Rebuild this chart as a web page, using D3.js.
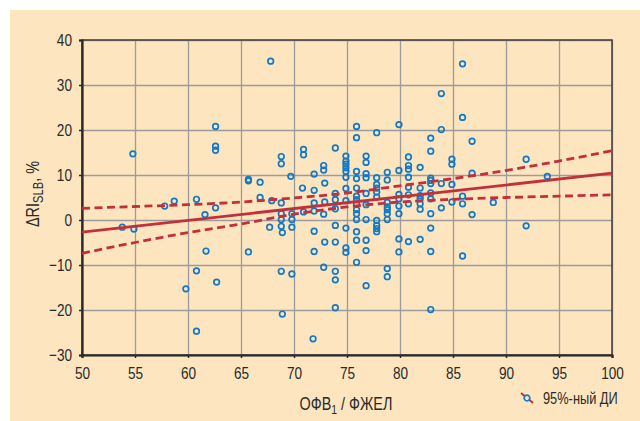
<!DOCTYPE html>
<html>
<head>
<meta charset="utf-8">
<script src="https://cdn.jsdelivr.net/npm/d3@7"></script>
<style>
  body { margin: 0; background: #fff; }
  svg text { font-family: "Liberation Sans", Arial, sans-serif; fill: #2a2a2a; }
</style>
</head>
<body>
<svg id="chart" width="640" height="421"></svg>
<script>
// ОФВ1/ФЖЕЛ (x) and ΔRI SLB, % (y) for each patient
var ofv = [
  54.8, 53.8, 54.9, 57.8, 58.7, 60.8, 61.6, 62.6, 62.6, 62.6, 62.6, 61.7, 60.8, 62.7, 59.8, 60.8, 65.7, 65.7, 65.7,
  67.8, 66.8, 66.8, 67.9, 68.8, 68.8, 68.8, 68.8, 68.8, 68.8, 68.9, 67.7, 68.8, 68.9,
  69.7, 69.8, 69.8, 69.8, 69.8, 70.9, 70.9, 70.8, 70.9,
  71.9, 71.9, 71.9, 71.9, 71.9, 71.9, 71.8,
  72.8, 72.8, 72.9, 72.9, 72.8, 72.9, 72.8,
  73.9, 73.9, 73.9, 73.9, 73.9, 73.9, 73.9, 73.9, 73.9,
  74.9, 74.9, 74.9, 74.9, 74.9, 74.9, 74.9, 74.9, 74.9, 74.9, 74.9,
  75.9, 75.9, 75.9, 75.9, 75.9, 75.9, 75.9, 75.9, 75.9, 75.9, 75.9, 75.9, 75.9, 75.9,
  76.8, 76.8, 76.8, 76.8, 76.8, 76.8, 76.8, 76.8, 76.8, 76.8,
  77.8, 77.8, 77.8, 77.8, 77.8, 77.8, 77.8, 77.8, 77.8, 77.8,
  78.8, 78.8, 78.8, 78.8, 78.8, 78.8, 78.8, 78.8, 78.8,
  79.9, 79.9, 79.9, 79.9, 79.9, 79.9, 79.9, 79.9,
  80.8, 80.8, 80.8, 80.8, 80.8, 80.8, 80.8, 80.8,
  81.9, 81.9, 81.9, 81.9, 81.9, 81.9, 81.9,
  82.9, 82.9, 82.9, 82.9, 82.9, 82.9, 82.9, 82.9, 82.9, 82.9, 82.9,
  83.9, 83.9, 83.9, 83.9,
  84.9, 84.9, 84.9, 84.9,
  85.9, 85.9, 85.9, 85.9, 85.9,
  86.8, 86.8, 86.8,
  88.8, 91.9, 91.9, 93.9
];
var dri = [
  14.7, -1.6, -2.0, 3.1, 4.2, 4.6, 1.2, 2.7, 20.8, 16.4, 15.5, -6.9, -11.3, -13.8, -15.3, -24.7, 9.0, 8.7, -7.1,
  35.3, 8.4, 5.0, 4.3, 14.1, 12.5, 3.8, 1.4, 0.1, -1.4, -2.8, -1.6, -11.4, -20.9,
  9.7, 1.4, 0.1, -1.6, -12.0, 15.7, 14.5, 7.1, 1.8,
  10.2, 6.6, 3.8, 2.0, -2.5, -7.0, -26.4,
  12.1, 11.1, 8.2, 4.0, 1.3, -4.9, -10.5,
  16.0, 5.9, 4.5, 2.5, -1.2, -4.9, -11.4, -13.3, -19.5,
  14.2, 13.1, 12.4, 11.6, 10.8, 9.5, 7.0, 4.3, -1.8, -6.2, -7.2,
  20.8, 18.3, 10.8, 9.2, 7.1, 5.3, 4.5, 3.5, 2.3, 1.4, 0.1, -2.6, -4.5, -9.4,
  14.2, 12.8, 10.3, 9.4, 5.9, 3.4, 0.1, -4.5, -6.8, -14.6,
  19.4, 9.4, 7.9, 7.1, 6.2, 5.1, -0.1, -1.2, -1.9, -2.6,
  10.6, 8.9, 3.9, 2.9, 2.3, 1.4, 0.1, -10.8, -12.6,
  21.2, 11.0, 5.7, 4.7, 3.1, 1.4, -4.2, -7.1,
  14.0, 12.1, 11.3, 9.5, 7.3, 5.6, 3.6, -4.8,
  11.7, 7.1, 5.4, 4.7, 3.6, 2.4, -4.3,
  18.2, 15.3, 9.3, 8.8, 8.1, 6.0, 4.7, 1.4, -1.8, -7.0, -19.9,
  28.1, 20.1, 8.1, 2.7,
  13.5, 12.4, 7.9, 4.0,
  34.7, 22.8, 5.3, 3.6, -8.0,
  17.5, 10.4, 1.2,
  3.9, 13.5, -1.3, 9.7
];

// regression line and its 95% confidence band
var fitX = [50, 100];
var fitY = [-2.7, 10.4];
var bandX = [50, 55, 60, 65, 70, 75, 80, 85, 90, 95, 100];
var bandUpper = [2.6, 3.0, 3.4, 4.0, 4.9, 6.0, 7.6, 9.2, 11.0, 13.1, 15.4];
var bandLower = [-7.4, -5.0, -2.8, -0.9, 1.3, 2.9, 4.0, 4.6, 5.0, 5.3, 5.6];

var xTicks = [50, 55, 60, 65, 70, 75, 80, 85, 90, 95, 100];
var yTicks = [-30, -20, -10, 0, 10, 20, 30, 40];
var legendLabel = "95%-ный ДИ";

var svg = d3.select("#chart");
var pLeft = 82, pTop = 40, pRight = 612, pBottom = 355;

svg.append("rect")
  .attr("x", 10).attr("y", 10)
  .attr("width", 630).attr("height", 411)
  .attr("fill", "#fde6bf");

var x = d3.scaleLinear().domain([50, 100]).range([pLeft, pRight]);
var y = d3.scaleLinear().domain([-30, 40]).range([pBottom, pTop]);

// grid
svg.append("g")
  .attr("transform", "translate(0," + pBottom + ")")
  .call(d3.axisBottom(x).tickValues(xTicks).tickSize(-(pBottom - pTop)).tickFormat(""))
  .call(g => g.select(".domain").remove())
  .selectAll("line").attr("stroke", "#9b9b9b").attr("stroke-width", 1.3);
svg.append("g")
  .attr("transform", "translate(" + pLeft + ",0)")
  .call(d3.axisLeft(y).tickValues(yTicks).tickSize(-(pRight - pLeft)).tickFormat(""))
  .call(g => g.select(".domain").remove())
  .selectAll("line").attr("stroke", "#9b9b9b").attr("stroke-width", 1.3);

// frame
svg.append("rect")
  .attr("x", pLeft).attr("y", pTop)
  .attr("width", pRight - pLeft).attr("height", pBottom - pTop)
  .attr("fill", "none").attr("stroke", "#4a4440").attr("stroke-width", 1.6);

// axes
var xAxis = svg.append("g")
  .attr("transform", "translate(0," + pBottom + ")")
  .call(d3.axisBottom(x).tickValues(xTicks).tickSize(3).tickPadding(9));
var yAxis = svg.append("g")
  .attr("transform", "translate(" + pLeft + ",0)")
  .call(d3.axisLeft(y).tickValues(yTicks).tickSize(3).tickPadding(7));
[xAxis, yAxis].forEach(function(a) {
  a.select(".domain").attr("stroke", "#2a2a2a").attr("stroke-width", 2.2);
  a.selectAll(".tick line").attr("stroke", "#2a2a2a").attr("stroke-width", 1.5);
  a.selectAll("text").style("font-size", "17px").attr("fill", "#2a2a2a")
    .attr("font-family", "Liberation Sans, Arial, sans-serif");
});

// points
svg.append("g").selectAll("circle")
  .data(ofv.map(function(v, i) { return [v, dri[i]]; }))
  .join("circle")
  .attr("cx", d => x(d[0]))
  .attr("cy", d => y(d[1]))
  .attr("r", 2.8)
  .attr("fill", "none")
  .attr("stroke", "#1479c4")
  .attr("stroke-width", 1.7);

// regression + band
var red = "#c3303c";
var band = d3.line().x(d => x(d[0])).y(d => y(d[1])).curve(d3.curveMonotoneX);
[bandUpper, bandLower].forEach(function(arr) {
  svg.append("path")
    .attr("d", band(bandX.map(function(v, i) { return [v, arr[i]]; })))
    .attr("fill", "none").attr("stroke", red)
    .attr("stroke-width", 2.8).attr("stroke-dasharray", "8,4.5");
});
svg.append("path")
  .attr("d", d3.line().x(d => x(d[0])).y(d => y(d[1]))(fitX.map(function(v, i) { return [v, fitY[i]]; })))
  .attr("fill", "none").attr("stroke", red).attr("stroke-width", 2.8);

// axis titles
var xt = svg.append("text")
  .attr("x", 346).attr("y", 410)
  .attr("text-anchor", "middle")
  .style("font-size", "18px");
xt.append("tspan").text("ОФВ");
xt.append("tspan").attr("dy", 4).style("font-size", "13px").text("1");
xt.append("tspan").attr("dy", -4).text(" / ФЖЕЛ");

var yt = svg.append("text")
  .attr("transform", "translate(39,194) rotate(-90)")
  .attr("text-anchor", "middle")
  .style("font-size", "18px");
yt.append("tspan").text("ΔRI");
yt.append("tspan").attr("dy", 4).style("font-size", "14px").text("SLB");
yt.append("tspan").attr("dy", -4).text(", %");

// legend
var lg = svg.append("g").attr("transform", "translate(527,398)");
lg.append("line")
  .attr("x1", -6).attr("y1", -5).attr("x2", 6).attr("y2", 5)
  .attr("stroke", red).attr("stroke-width", 2);
lg.append("circle")
  .attr("r", 2.8).attr("fill", "#fde6bf")
  .attr("stroke", "#1479c4").attr("stroke-width", 1.7);
lg.append("text")
  .attr("x", 16).attr("y", 6)
  .style("font-size", "16px")
  .text(legendLabel);

// the original uses a narrow typeface: squeeze every label a bit
svg.selectAll("text").each(function() {
  var w = this.getComputedTextLength();
  if (w > 0) {
    d3.select(this).attr("textLength", w * 0.8).attr("lengthAdjust", "spacingAndGlyphs");
  }
});
</script>
</body>
</html>
